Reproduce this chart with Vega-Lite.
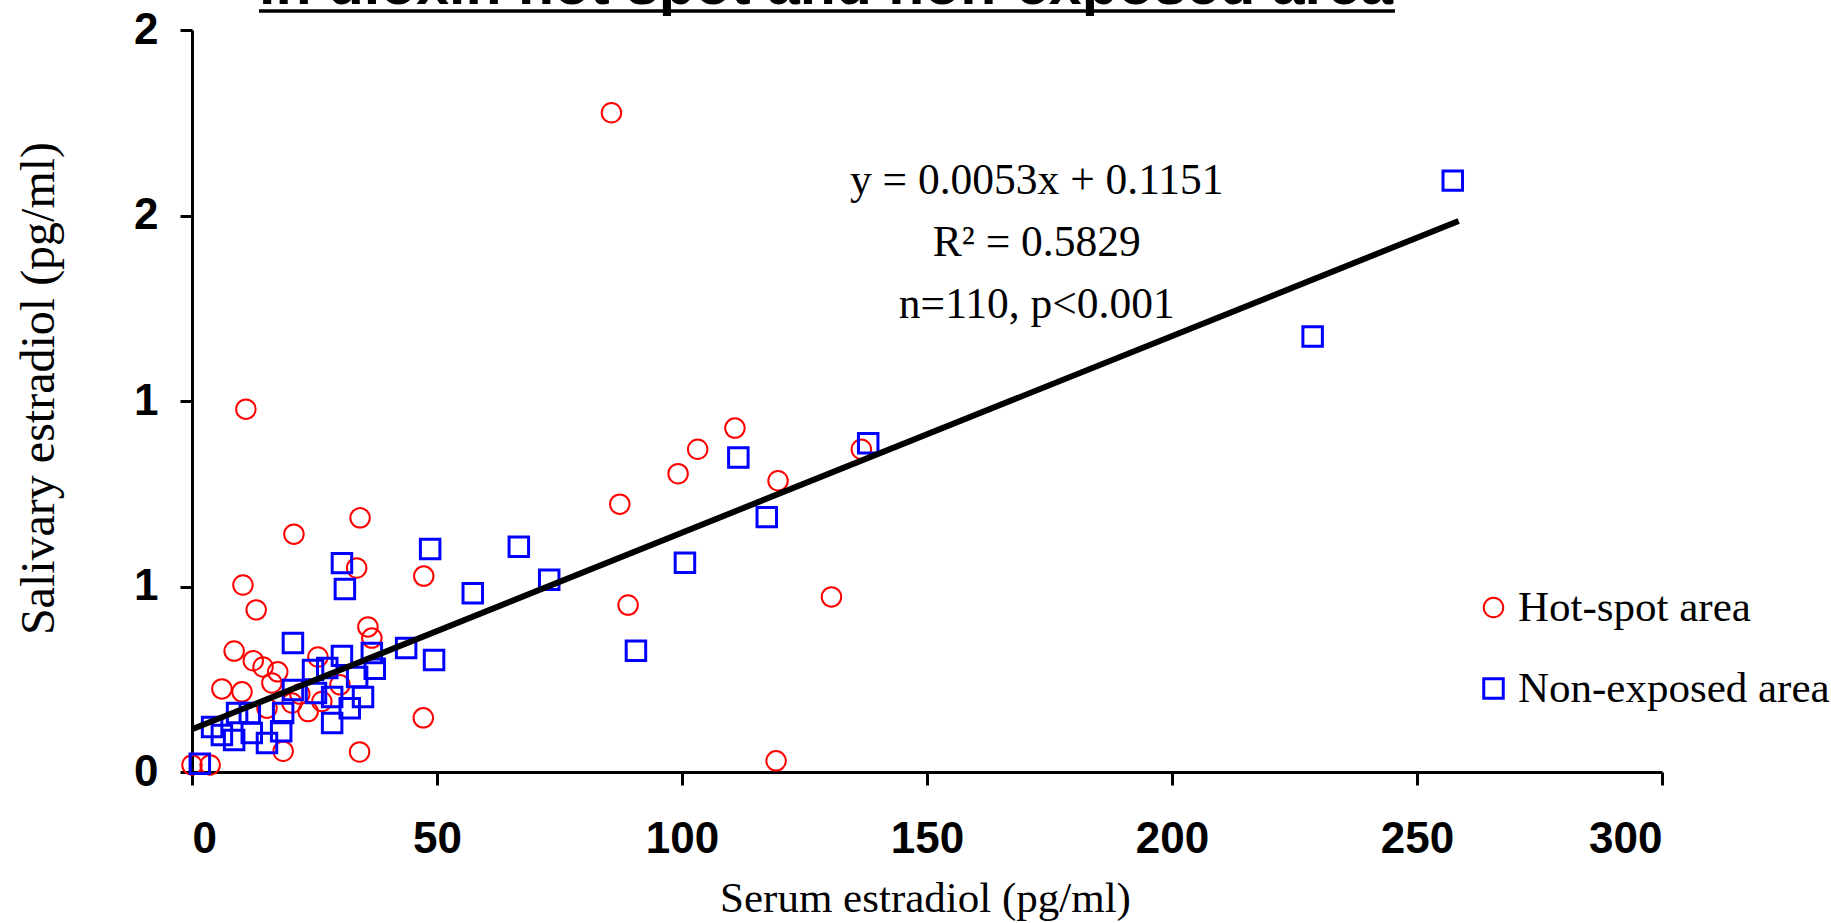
{
  "$schema": "https://vega.github.io/schema/vega-lite/v6.json",
  "autosize": {"type": "none"},
  "padding": {"left": 192, "top": 30, "right": 169, "bottom": 151},
  "width": 1470,
  "height": 742,
  "background": "white",
  "config": {"view": {"stroke": null}, "font": "Liberation Serif"},
  "datasets": {
    "samples": [
      {"serum": 85.6, "saliva": 1.777, "area": "Hot-spot area"},
      {"serum": 11.0, "saliva": 0.978, "area": "Hot-spot area"},
      {"serum": 110.8, "saliva": 0.927, "area": "Hot-spot area"},
      {"serum": 103.2, "saliva": 0.870, "area": "Hot-spot area"},
      {"serum": 99.2, "saliva": 0.804, "area": "Hot-spot area"},
      {"serum": 119.6, "saliva": 0.785, "area": "Hot-spot area"},
      {"serum": 136.6, "saliva": 0.870, "area": "Hot-spot area"},
      {"serum": 34.3, "saliva": 0.685, "area": "Hot-spot area"},
      {"serum": 87.3, "saliva": 0.722, "area": "Hot-spot area"},
      {"serum": 20.8, "saliva": 0.641, "area": "Hot-spot area"},
      {"serum": 33.6, "saliva": 0.550, "area": "Hot-spot area"},
      {"serum": 10.4, "saliva": 0.504, "area": "Hot-spot area"},
      {"serum": 13.1, "saliva": 0.437, "area": "Hot-spot area"},
      {"serum": 47.3, "saliva": 0.528, "area": "Hot-spot area"},
      {"serum": 89.0, "saliva": 0.450, "area": "Hot-spot area"},
      {"serum": 130.5, "saliva": 0.472, "area": "Hot-spot area"},
      {"serum": 35.9, "saliva": 0.391, "area": "Hot-spot area"},
      {"serum": 36.7, "saliva": 0.361, "area": "Hot-spot area"},
      {"serum": 8.6, "saliva": 0.326, "area": "Hot-spot area"},
      {"serum": 14.5, "saliva": 0.283, "area": "Hot-spot area"},
      {"serum": 25.7, "saliva": 0.310, "area": "Hot-spot area"},
      {"serum": 6.1, "saliva": 0.224, "area": "Hot-spot area"},
      {"serum": 10.2, "saliva": 0.216, "area": "Hot-spot area"},
      {"serum": 16.3, "saliva": 0.240, "area": "Hot-spot area"},
      {"serum": 20.4, "saliva": 0.186, "area": "Hot-spot area"},
      {"serum": 23.7, "saliva": 0.163, "area": "Hot-spot area"},
      {"serum": 15.3, "saliva": 0.172, "area": "Hot-spot area"},
      {"serum": 18.6, "saliva": 0.056, "area": "Hot-spot area"},
      {"serum": 34.2, "saliva": 0.054, "area": "Hot-spot area"},
      {"serum": 47.2, "saliva": 0.146, "area": "Hot-spot area"},
      {"serum": 119.2, "saliva": 0.030, "area": "Hot-spot area"},
      {"serum": 0.0, "saliva": 0.019, "area": "Hot-spot area"},
      {"serum": 3.7, "saliva": 0.019, "area": "Hot-spot area"},
      {"serum": 30.2, "saliva": 0.235, "area": "Hot-spot area"},
      {"serum": 26.5, "saliva": 0.190, "area": "Hot-spot area"},
      {"serum": 22.0, "saliva": 0.210, "area": "Hot-spot area"},
      {"serum": 12.5, "saliva": 0.300, "area": "Hot-spot area"},
      {"serum": 17.5, "saliva": 0.270, "area": "Hot-spot area"},
      {"serum": 257.3, "saliva": 1.594, "area": "Non-exposed area"},
      {"serum": 228.7, "saliva": 1.174, "area": "Non-exposed area"},
      {"serum": 138.0, "saliva": 0.886, "area": "Non-exposed area"},
      {"serum": 111.5, "saliva": 0.848, "area": "Non-exposed area"},
      {"serum": 117.3, "saliva": 0.687, "area": "Non-exposed area"},
      {"serum": 100.6, "saliva": 0.564, "area": "Non-exposed area"},
      {"serum": 90.6, "saliva": 0.327, "area": "Non-exposed area"},
      {"serum": 72.9, "saliva": 0.518, "area": "Non-exposed area"},
      {"serum": 66.7, "saliva": 0.607, "area": "Non-exposed area"},
      {"serum": 57.3, "saliva": 0.482, "area": "Non-exposed area"},
      {"serum": 48.6, "saliva": 0.601, "area": "Non-exposed area"},
      {"serum": 49.4, "saliva": 0.302, "area": "Non-exposed area"},
      {"serum": 43.7, "saliva": 0.334, "area": "Non-exposed area"},
      {"serum": 30.6, "saliva": 0.563, "area": "Non-exposed area"},
      {"serum": 31.2, "saliva": 0.493, "area": "Non-exposed area"},
      {"serum": 20.6, "saliva": 0.348, "area": "Non-exposed area"},
      {"serum": 30.6, "saliva": 0.313, "area": "Non-exposed area"},
      {"serum": 36.7, "saliva": 0.321, "area": "Non-exposed area"},
      {"serum": 37.3, "saliva": 0.278, "area": "Non-exposed area"},
      {"serum": 24.7, "saliva": 0.275, "area": "Non-exposed area"},
      {"serum": 27.6, "saliva": 0.280, "area": "Non-exposed area"},
      {"serum": 33.7, "saliva": 0.256, "area": "Non-exposed area"},
      {"serum": 20.6, "saliva": 0.221, "area": "Non-exposed area"},
      {"serum": 25.3, "saliva": 0.213, "area": "Non-exposed area"},
      {"serum": 28.6, "saliva": 0.202, "area": "Non-exposed area"},
      {"serum": 32.2, "saliva": 0.172, "area": "Non-exposed area"},
      {"serum": 34.9, "saliva": 0.202, "area": "Non-exposed area"},
      {"serum": 28.6, "saliva": 0.132, "area": "Non-exposed area"},
      {"serum": 18.6, "saliva": 0.159, "area": "Non-exposed area"},
      {"serum": 18.2, "saliva": 0.110, "area": "Non-exposed area"},
      {"serum": 9.2, "saliva": 0.159, "area": "Non-exposed area"},
      {"serum": 11.8, "saliva": 0.159, "area": "Non-exposed area"},
      {"serum": 12.2, "saliva": 0.105, "area": "Non-exposed area"},
      {"serum": 6.1, "saliva": 0.100, "area": "Non-exposed area"},
      {"serum": 4.1, "saliva": 0.121, "area": "Non-exposed area"},
      {"serum": 8.6, "saliva": 0.086, "area": "Non-exposed area"},
      {"serum": 15.3, "saliva": 0.078, "area": "Non-exposed area"},
      {"serum": 1.6, "saliva": 0.022, "area": "Non-exposed area"}
    ],
    "fit": [
      {"serum": 0, "saliva": 0.1151},
      {"serum": 258.5, "saliva": 1.4852}
    ]
  },
  "layer": [
    {
      "data": {"name": "samples"},
      "mark": {"type": "point", "filled": false, "opacity": 1, "size": 380},
      "encoding": {
        "x": {
          "field": "serum",
          "type": "quantitative",
          "scale": {"domain": [0, 300], "nice": false, "zero": false},
          "axis": {
            "values": [0, 50, 100, 150, 200, 250, 300],
            "grid": false,
            "domainColor": "black",
            "domainWidth": 3,
            "tickColor": "black",
            "tickWidth": 3,
            "tickSize": 13,
            "labelFont": "Liberation Sans",
            "labelFontSize": 44,
            "labelFontWeight": "bold",
            "labelColor": "black",
            "labelPadding": 32,
            "title": "Serum estradiol (pg/ml)",
            "titleFont": "Liberation Serif",
            "titleFontSize": 43,
            "titleFontWeight": "normal",
            "titleColor": "black",
            "titleBaseline": "alphabetic",
            "titleAlign": "center",
            "titleX": 733,
            "titleY": 139
          }
        },
        "y": {
          "field": "saliva",
          "type": "quantitative",
          "scale": {"domain": [0, 2], "nice": false},
          "axis": {
            "values": [0, 0.5, 1, 1.5, 2],
            "labelExpr": "'' + round(datum.value)",
            "labelOverlap": false,
            "grid": false,
            "domainColor": "black",
            "domainWidth": 3,
            "tickColor": "black",
            "tickWidth": 3,
            "tickSize": 12,
            "labelFont": "Liberation Sans",
            "labelFontSize": 44,
            "labelFontWeight": "bold",
            "labelColor": "black",
            "labelPadding": 22,
            "title": "Salivary estradiol (pg/ml)",
            "titleFont": "Liberation Serif",
            "titleFontSize": 48,
            "titleFontWeight": "normal",
            "titleColor": "black",
            "titleAngle": -90,
            "titleBaseline": "alphabetic",
            "titleAlign": "center",
            "titleX": -139,
            "titleY": 358
          }
        },
        "color": {
          "field": "area",
          "type": "nominal",
          "scale": {"domain": ["Hot-spot area", "Non-exposed area"], "range": ["#ff0000", "#0000ff"]},
          "legend": {
            "title": null,
            "orient": "none",
            "legendX": 1280,
            "legendY": 556,
            "padding": 0,
            "labelFont": "Liberation Serif",
            "labelFontSize": 43,
            "labelColor": "black",
            "labelLimit": 0,
            "labelOffset": 3,
            "rowPadding": 37,
            "symbolSize": 380,
            "symbolStrokeWidth": 2.5
          }
        },
        "shape": {
          "field": "area",
          "type": "nominal",
          "scale": {"domain": ["Hot-spot area", "Non-exposed area"], "range": ["circle", "square"]},
          "legend": {
            "title": null,
            "orient": "none",
            "legendX": 1280,
            "legendY": 556,
            "padding": 0,
            "labelFont": "Liberation Serif",
            "labelFontSize": 43,
            "labelColor": "black",
            "labelLimit": 0,
            "labelOffset": 3,
            "rowPadding": 37,
            "symbolSize": 380,
            "symbolStrokeWidth": 2.5
          }
        },
        "strokeWidth": {
          "field": "area",
          "type": "nominal",
          "scale": {"domain": ["Hot-spot area", "Non-exposed area"], "range": [2, 3]},
          "legend": null
        }
      }
    },
    {
      "data": {"name": "fit"},
      "mark": {"type": "line", "color": "black", "strokeWidth": 6},
      "encoding": {
        "x": {"field": "serum", "type": "quantitative", "title": "Serum estradiol (pg/ml)"},
        "y": {"field": "saliva", "type": "quantitative", "title": "Salivary estradiol (pg/ml)"}
      }
    },
    {
      "data": {"values": [{}]},
      "mark": {
        "type": "text",
        "text": ["y = 0.0053x + 0.1151", "R² = 0.5829", "n=110, p<0.001"],
        "font": "Liberation Serif",
        "fontSize": 43.5,
        "color": "black",
        "align": "center",
        "baseline": "alphabetic",
        "lineHeight": 62
      },
      "encoding": {
        "x": {"datum": 172.4},
        "y": {"datum": 1.558}
      }
    },
    {
      "data": {"values": [{}]},
      "mark": {
        "type": "text",
        "text": "in dioxin hot spot and non-exposed area",
        "font": "Liberation Sans",
        "fontSize": 59,
        "fontWeight": "bold",
        "color": "black",
        "align": "left",
        "baseline": "alphabetic"
      },
      "encoding": {
        "x": {"datum": 13.67},
        "y": {"datum": 2.07}
      }
    },
    {
      "data": {"values": [{}]},
      "mark": {"type": "rule", "color": "black", "strokeWidth": 3.5},
      "encoding": {
        "x": {"datum": 13.67},
        "x2": {"datum": 245.5},
        "y": {"datum": 2.051}
      }
    }
  ]
}
